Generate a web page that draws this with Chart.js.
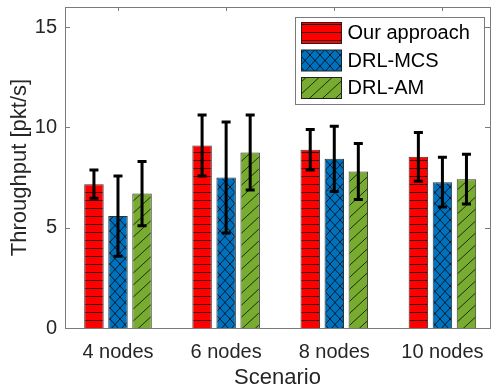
<!DOCTYPE html>
<html>
<head>
<meta charset="utf-8">
<script src="https://cdn.jsdelivr.net/npm/chart.js@4/dist/chart.umd.min.js"></script>
<style>
  html, body { margin: 0; padding: 0; background: #fff; }
  #wrap { width: 493px; height: 391px; position: relative; }
</style>
</head>
<body>
<div id="wrap"><canvas id="chart-throughput"></canvas></div>
<script>
// chart data
const scenarios = ['4 nodes', '6 nodes', '8 nodes', '10 nodes'];
const series_names = ['Our approach', 'DRL-MCS', 'DRL-AM'];
const our_approach = [7.17, 9.10, 8.88, 8.53];
const our_approach_err = [0.70, 1.52, 1.01, 1.22];
const drl_mcs = [5.58, 7.50, 8.43, 7.27];
const drl_mcs_err = [2.00, 2.77, 1.63, 1.24];
const drl_am = [6.70, 8.75, 7.80, 7.42];
const drl_am_err = [1.60, 1.87, 1.40, 1.24];
const y_ticks = [0, 5, 10, 15];

const font_family = '"Liberation Sans", Arial, Helvetica, sans-serif';
const axis_color = '#7a7a7a';
const text_color = '#262626';

// hatch fills like the matlab figure
function makePattern(bg, w, h, draw) {
  const c = document.createElement('canvas');
  c.width = w;
  c.height = h;
  const g = c.getContext('2d');
  g.fillStyle = bg;
  g.fillRect(0, 0, w, h);
  g.strokeStyle = 'rgba(0, 0, 0, 0.75)';
  g.lineWidth = 1;
  g.beginPath();
  draw(g, w, h);
  g.stroke();
  return g.createPattern(c, 'repeat');
}

const red_fill = makePattern('#ff0000', 8, 8, (g, w, h) => {
  g.moveTo(0, 0.5); g.lineTo(w, 0.5);
});
const blue_fill = makePattern('#0072bd', 10, 11, (g, w, h) => {
  g.moveTo(0, 0); g.lineTo(w, h);
  g.moveTo(w, 0); g.lineTo(0, h);
});
const green_fill = makePattern('#77ac30', 13, 12, (g, w, h) => {
  g.moveTo(-1, h + h / w); g.lineTo(w + 1, -h / w);
});

const fills = [red_fill, blue_fill, green_fill];
const values = [our_approach, drl_mcs, drl_am];
const errors = [our_approach_err, drl_mcs_err, drl_am_err];

function toPoints(arr) {
  return arr.map((v, i) => ({ x: i + 1, y: v }));
}

// error bars, drawn from the bar elements + y scale
const errorBarPlugin = {
  id: 'errorBars',
  afterDatasetsDraw(chart) {
    const ctx = chart.ctx;
    const yScale = chart.scales.y;
    ctx.save();
    ctx.strokeStyle = '#000';
    ctx.lineWidth = 3;
    ctx.lineCap = 'butt';
    chart.data.datasets.forEach((ds, di) => {
      const meta = chart.getDatasetMeta(di);
      meta.data.forEach((bar, i) => {
        const v = ds.data[i].y;
        const e = ds.errors[i];
        const yTop = yScale.getPixelForValue(v + e);
        const yBot = yScale.getPixelForValue(v - e);
        ctx.beginPath();
        ctx.moveTo(bar.x, yTop);
        ctx.lineTo(bar.x, yBot);
        ctx.moveTo(bar.x - 4.5, yTop);
        ctx.lineTo(bar.x + 4.5, yTop);
        ctx.moveTo(bar.x - 4.5, yBot);
        ctx.lineTo(bar.x + 4.5, yBot);
        ctx.stroke();
      });
    });
    ctx.restore();
  }
};

// matlab-style box with inward ticks
const boxPlugin = {
  id: 'axesBox',
  beforeDatasetsDraw(chart) {
    const { ctx, chartArea: a, scales } = chart;
    ctx.save();
    ctx.strokeStyle = axis_color;
    ctx.lineWidth = 1;
    ctx.beginPath();
    scales.y.ticks.forEach(t => {
      const y = Math.round(scales.y.getPixelForValue(t.value)) + 0.5;
      ctx.moveTo(a.left, y); ctx.lineTo(a.left + 5, y);
      ctx.moveTo(a.right, y); ctx.lineTo(a.right - 5, y);
    });
    scales.x.ticks.forEach(t => {
      const x = Math.round(scales.x.getPixelForValue(t.value)) + 0.5;
      ctx.moveTo(x, a.top); ctx.lineTo(x, a.top + 4);
      ctx.moveTo(x, a.bottom); ctx.lineTo(x, a.bottom - 4);
    });
    ctx.stroke();
    ctx.restore();
  },
  afterDraw(chart) {
    const { ctx, chartArea: a } = chart;
    ctx.save();
    ctx.strokeStyle = axis_color;
    ctx.lineWidth = 1;
    ctx.strokeRect(Math.round(a.left) + 0.5, Math.round(a.top) + 0.5,
      Math.round(a.right - a.left), Math.round(a.bottom - a.top));
    ctx.restore();
  }
};

// legend inside the plot, top right
const boxLegendPlugin = {
  id: 'boxLegend',
  afterDraw(chart) {
    const { ctx, chartArea: a } = chart;
    const w = 189, h = 87;
    const x0 = Math.round(a.right - 6 - w) + 0.5;
    const y0 = Math.round(a.top + 10) + 0.5;
    ctx.save();
    ctx.fillStyle = '#fff';
    ctx.fillRect(x0, y0, w, h);
    ctx.strokeStyle = axis_color;
    ctx.lineWidth = 1;
    ctx.strokeRect(x0, y0, w, h);
    ctx.font = '20px ' + font_family;
    ctx.textBaseline = 'middle';
    ctx.textAlign = 'left';
    chart.data.datasets.forEach((ds, i) => {
      const sy = y0 + 5 + i * 27.5;
      ctx.fillStyle = ds.backgroundColor;
      ctx.fillRect(x0 + 6, sy, 40, 21);
      ctx.strokeStyle = '#222';
      ctx.strokeRect(x0 + 6, sy, 40, 21);
      ctx.fillStyle = '#000';
      ctx.fillText(ds.label, x0 + 52, sy + 11);
    });
    ctx.restore();
  }
};

const ctx = document.getElementById('chart-throughput');
const chart = new Chart(ctx, {
  type: 'bar',
  plugins: [boxPlugin, errorBarPlugin, boxLegendPlugin],
  data: {
    datasets: series_names.map((name, i) => ({
      label: name,
      data: toPoints(values[i]),
      errors: errors[i],
      backgroundColor: fills[i],
      borderColor: '#333',
      borderWidth: 1,
      categoryPercentage: 0.667,
      barPercentage: 0.81,
    }))
  },
  options: {
    responsive: true,
    maintainAspectRatio: false,
    animation: false,
    devicePixelRatio: 1,
    layout: { padding: { top: 7, right: 3, left: 0, bottom: 0 } },
    scales: {
      x: {
        type: 'linear',
        offset: false,
        min: 0.51,
        max: 4.44,
        afterBuildTicks: (scale) => {
          scale.ticks = scenarios.map((_, i) => ({ value: i + 1 }));
        },
        afterFit: (scale) => {
          scale.height = 63;
          scale.paddingLeft = 0;
          scale.paddingRight = 0;
        },
        grid: { display: false, drawTicks: false },
        border: { display: false },
        ticks: {
          padding: 12,
          color: text_color,
          font: { family: font_family, size: 20 },
          maxRotation: 0,
          autoSkip: false,
          callback: (v) => scenarios[v - 1] || '',
        },
        title: {
          display: true,
          text: 'Scenario',
          color: text_color,
          font: { family: font_family, size: 22, lineHeight: 1 },
          padding: { top: 0, bottom: 2 },
        }
      },
      y: {
        min: 0,
        max: 16,
        afterBuildTicks: (scale) => {
          scale.ticks = y_ticks.map(v => ({ value: v }));
        },
        afterFit: (scale) => {
          scale.width = 65;
          scale.paddingTop = 0;
          scale.paddingBottom = 0;
        },
        grid: { display: false, drawTicks: false },
        border: { display: false },
        ticks: {
          padding: 8,
          color: text_color,
          font: { family: font_family, size: 20 },
        },
        title: {
          display: true,
          text: 'Throughput [pkt/s]',
          color: text_color,
          font: { family: font_family, size: 22, lineHeight: 1 },
          padding: { top: 9, bottom: 0 },
        }
      }
    },
    plugins: {
      legend: { display: false },
      tooltip: { enabled: false },
    }
  }
});
</script>
</body>
</html>
